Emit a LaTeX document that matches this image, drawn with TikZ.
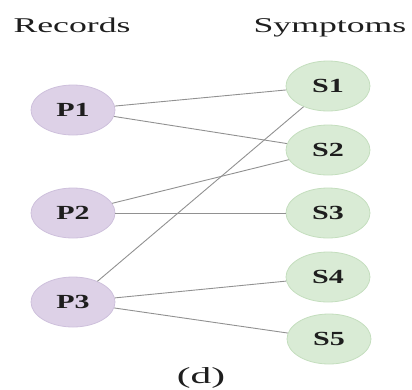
\documentclass[tikz,border=0pt]{standalone}
\usepackage{fontspec}
\setmainfont{Liberation Serif}
\usetikzlibrary{shapes.geometric}
\definecolor{recfill}{RGB}{221,209,231}
\definecolor{recdraw}{RGB}{206,192,220}
\definecolor{symfill}{RGB}{217,235,213}
\definecolor{symdraw}{RGB}{196,222,190}
\definecolor{ink}{RGB}{30,30,30}
\definecolor{edgegray}{RGB}{145,145,145}
\tikzset{
  vert/.style={ellipse, minimum width=84pt, minimum height=50pt, inner sep=0pt,
    line width=0.8pt, text=ink,
    font=\fontsize{20}{20}\bfseries\selectfont},
  rec/.style={vert, fill=recfill, draw=recdraw},
  sym/.style={vert, fill=symfill, draw=symdraw},
  head/.style={anchor=base, text=ink, inner sep=0pt},
  link/.style={draw=edgegray, line width=0.9pt}
}
\newcommand{\wide}[2]{\scalebox{#1}[1]{#2}}
\begin{document}
\begin{tikzpicture}[x=1pt,y=-1pt]
\useasboundingbox (0,0) rectangle (412,389);
% column headings
\node[head, font=\fontsize{21}{21}\selectfont] (hrec) at (72,32) {\wide{1.7}{Records}};
\node[head, font=\fontsize{21}{21}\selectfont] (hsym) at (330,32) {\wide{1.7}{Symptoms}};
% record nodes
\node[rec] (P1) at (73,110) {\wide{1.5}{P1}};
\node[rec] (P2) at (73,213) {\wide{1.5}{P2}};
\node[rec] (P3) at (73,302) {\wide{1.5}{P3}};
% symptom nodes
\node[sym] (S1) at (328,86) {\wide{1.5}{S1}};
\node[sym] (S2) at (328,150) {\wide{1.5}{S2}};
\node[sym] (S3) at (328,213) {\wide{1.5}{S3}};
\node[sym] (S4) at (328,277) {\wide{1.5}{S4}};
\node[sym] (S5) at (329,339) {\wide{1.5}{S5}};
% record -- symptom links
\draw[link] (P1) -- (S1);
\draw[link] (P1) -- (S2);
\draw[link] (P2) -- (S2);
\draw[link] (P2) -- (S3);
\draw[link] (P3) -- (S1);
\draw[link] (P3) -- (S4);
\draw[link] (P3) -- (S5);
% caption
\node[head, font=\fontsize{23}{23}\selectfont] (cap) at (201,383) {\wide{1.8}{(d)}};
\end{tikzpicture}
\end{document}
